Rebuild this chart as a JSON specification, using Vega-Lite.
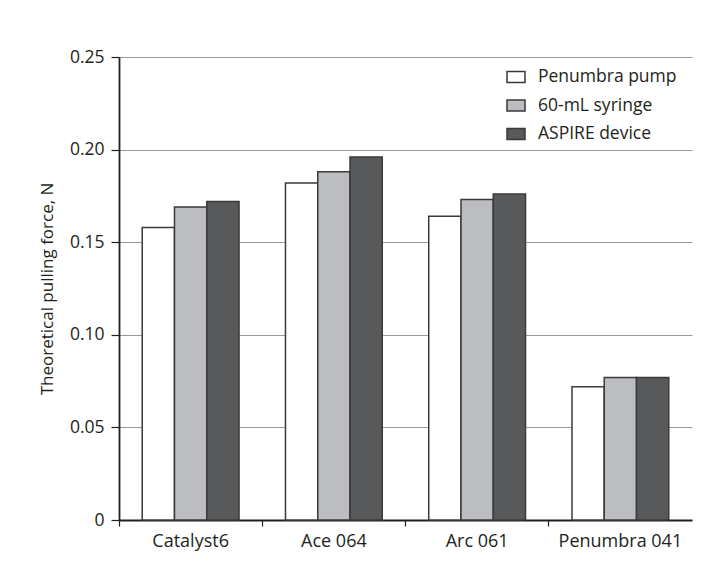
{
  "$schema": "https://vega.github.io/schema/vega-lite/v6.json",
  "width": 573,
  "height": 463,
  "autosize": {"type": "none"},
  "padding": {"left": 119, "top": 57, "right": 26, "bottom": 66},
  "background": "white",
  "config": {
    "font": "Open Sans",
    "view": {"stroke": null},
    "axis": {"labelFont": "Open Sans", "titleFont": "Open Sans", "labelColor": "#231f20", "titleColor": "#231f20"}
  },
  "data": {
    "values": [
      {"device": "Catalyst6", "method": "Penumbra pump", "force": 0.158},
      {"device": "Catalyst6", "method": "60-mL syringe", "force": 0.169},
      {"device": "Catalyst6", "method": "ASPIRE device", "force": 0.172},
      {"device": "Ace 064", "method": "Penumbra pump", "force": 0.182},
      {"device": "Ace 064", "method": "60-mL syringe", "force": 0.188},
      {"device": "Ace 064", "method": "ASPIRE device", "force": 0.196},
      {"device": "Arc 061", "method": "Penumbra pump", "force": 0.164},
      {"device": "Arc 061", "method": "60-mL syringe", "force": 0.173},
      {"device": "Arc 061", "method": "ASPIRE device", "force": 0.176},
      {"device": "Penumbra 041", "method": "Penumbra pump", "force": 0.072},
      {"device": "Penumbra 041", "method": "60-mL syringe", "force": 0.077},
      {"device": "Penumbra 041", "method": "ASPIRE device", "force": 0.077}
    ]
  },
  "mark": {"type": "bar", "stroke": "#3a3a3a", "strokeWidth": 1.5},
  "encoding": {
    "x": {
      "field": "device",
      "type": "nominal",
      "sort": ["Catalyst6", "Ace 064", "Arc 061", "Penumbra 041"],
      "scale": {"paddingInner": 0, "paddingOuter": 0},
      "axis": {
        "title": null,
        "bandPosition": 0,
        "labelAngle": 0,
        "labelFontSize": 18,
        "labelPadding": 6,
        "tickSize": 6,
        "tickColor": "#231f20",
        "tickWidth": 1.2,
        "domainColor": "#231f20",
        "domainWidth": 1.8,
        "grid": false
      }
    },
    "xOffset": {
      "field": "method",
      "type": "nominal",
      "sort": ["Penumbra pump", "60-mL syringe", "ASPIRE device"],
      "scale": {"paddingInner": 0, "paddingOuter": 0.72}
    },
    "y": {
      "field": "force",
      "type": "quantitative",
      "scale": {"domain": [0, 0.25], "nice": false},
      "axis": {
        "title": "Theoretical pulling force, N",
        "titleFontSize": 17,
        "titleFontWeight": "normal",
        "titlePadding": 13,
        "values": [0, 0.05, 0.1, 0.15, 0.2, 0.25],
        "labelExpr": "datum.value == 0 ? '0' : format(datum.value, '.2f')",
        "labelFontSize": 17.5,
        "labelPadding": 7,
        "tickSize": 8,
        "tickColor": "#231f20",
        "tickWidth": 1.2,
        "domainColor": "#231f20",
        "domainWidth": 1.8,
        "grid": true,
        "gridColor": "#9a9a9a",
        "gridWidth": 1.2
      }
    },
    "fill": {
      "field": "method",
      "type": "nominal",
      "sort": ["Penumbra pump", "60-mL syringe", "ASPIRE device"],
      "scale": {"domain": ["Penumbra pump", "60-mL syringe", "ASPIRE device"], "range": ["#ffffff", "#bcbdc0", "#58595b"]},
      "legend": {
        "title": null,
        "orient": "none",
        "legendX": 387,
        "legendY": 10,
        "symbolType": "M-1,-0.6H1V0.6H-1Z",
        "symbolSize": 324,
        "symbolStrokeColor": "#3a3a3a",
        "symbolStrokeWidth": 1.5,
        "labelFontSize": 17.5,
        "labelColor": "#231f20",
        "labelOffset": 12,
        "rowPadding": 9.5,
        "symbolOffset": 0
      }
    }
  }
}
